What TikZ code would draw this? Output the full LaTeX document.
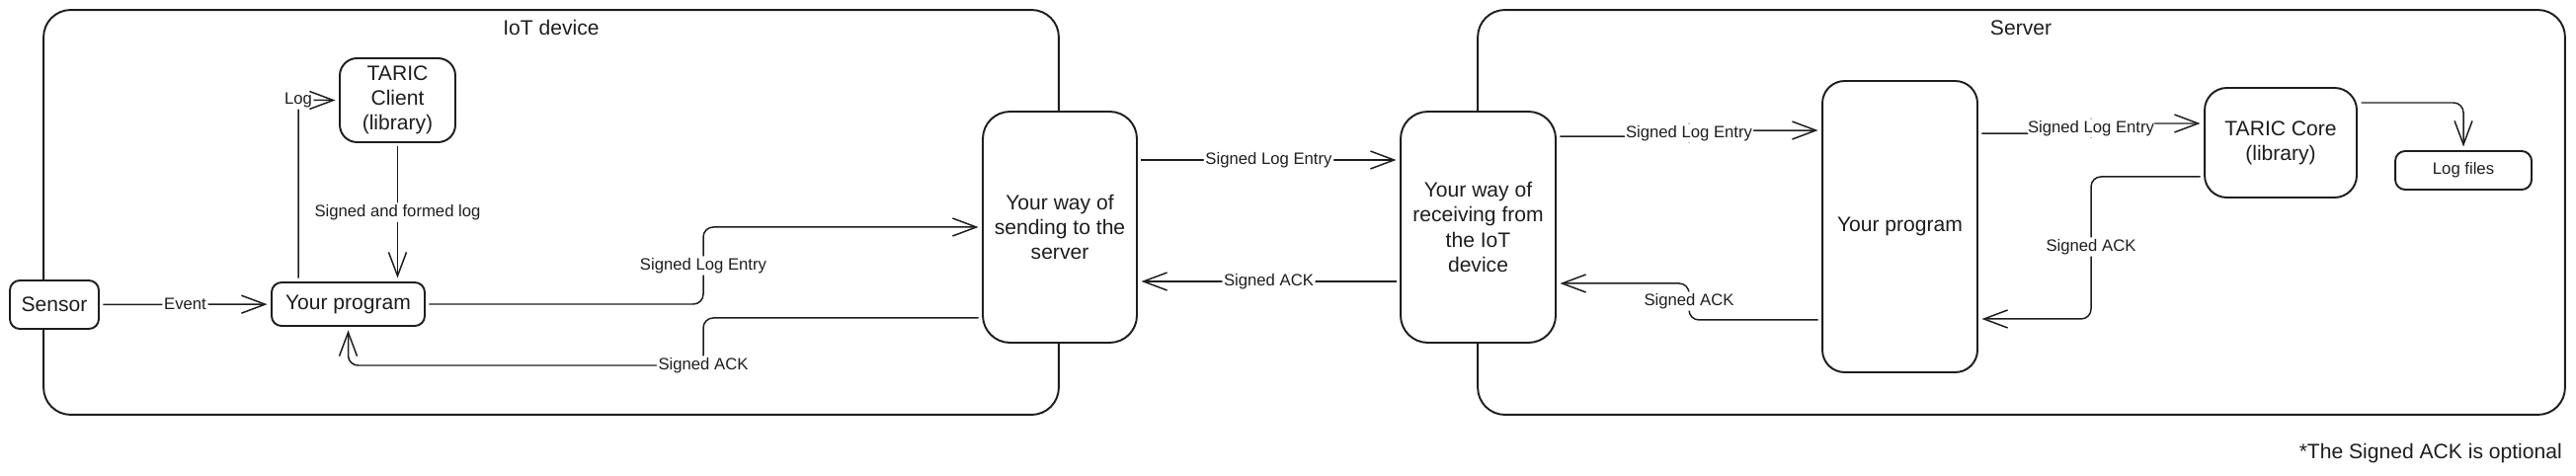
\documentclass[tikz,border=0pt]{standalone}
\usepackage{fontspec}
\setsansfont{Liberation Sans}
\usepackage{tikz}
\usetikzlibrary{arrows.meta}
\definecolor{ink}{HTML}{1E1E1E}

\begin{document}
\begin{tikzpicture}[
  x=0.02cm, y=-0.02cm,
  font=\sffamily,
  >={Straight Barb[length=0.48cm,width=0.36cm]},
  zone/.style={draw=ink, line width=1.1pt, rounded corners=0.55cm},
  block/.style={draw=ink, fill=white, line width=1.1pt, align=center, inner sep=2pt,
    text=ink, font=\sffamily\fontsize{12}{14.4}\selectfont},
  small/.style={block, rounded corners=0.2cm},
  tall/.style={block, rounded corners=0.55cm},
  zonetitle/.style={text=ink, font=\sffamily\fontsize{12}{14.4}\selectfont},
  lbl/.style={fill=white, inner sep=1pt, text=ink, font=\sffamily\fontsize{9.5}{11}\selectfont},
  flow/.style={->, draw=ink, line width=0.85pt, rounded corners=0.2cm,
    shorten <=2pt, shorten >=2pt}
]
\useasboundingbox (0,0) rectangle (2608,482);

\node[zone, minimum width=20.56cm, minimum height=8.2cm] (iot) at (558,215) {};
\node[zone, minimum width=22.02cm, minimum height=8.2cm] (server) at (2046.5,215) {};
\node[zonetitle] (iottitle) at (558,28) {IoT device};
\node[zonetitle] (servertitle) at (2046,28) {Server};

\node[small, minimum width=1.8cm, minimum height=0.98cm] (sensor) at (55,308.5) {Sensor};
\node[small, minimum width=3.1cm, minimum height=0.88cm] (progA) at (352.5,308) {Your program};
\node[block, rounded corners=0.35cm, minimum width=2.34cm, minimum height=1.7cm] (client)
  at (402.5,101.5) {TARIC\\Client\\(library)};
\node[tall, minimum width=3.12cm, minimum height=4.68cm] (send) at (1073,230)
  {Your way of\\sending to the\\server};
\node[tall, minimum width=3.14cm, minimum height=4.68cm] (recv) at (1496.5,230)
  {Your way of\\receiving from\\the IoT\\device};
\node[tall, rounded corners=0.45cm, minimum width=3.14cm, minimum height=5.9cm] (progB)
  at (1923.5,229.5) {Your program};
\node[tall, rounded corners=0.45cm, minimum width=3.08cm, minimum height=2.22cm] (core)
  at (2309,144.5) {TARIC Core\\(library)};
\node[small, font=\sffamily\fontsize{9.5}{11}\selectfont, minimum width=2.76cm,
  minimum height=0.78cm] (logs) at (2494,172.5) {Log files};

\coordinate (entryA) at (712,269);
\coordinate (ackA) at (712,370);
\coordinate (entryC) at (1710,135);
\coordinate (ackC) at (1710,305);
\coordinate (entryD) at (2117,130);
\coordinate (ackD) at (2117,250);

\draw[flow] (sensor) -- node[lbl]{Event} (progA);
\draw[flow] ([xshift=-1.01cm]progA.north) |- node[lbl]{Log} (client.west);
\draw[flow] (client.south) -- node[lbl]{Signed and formed log} (client.south |- progA.north);
\draw[flow] (progA.east) -| (entryA) node[lbl]{Signed Log Entry} |- (send.west);
\draw[flow] ([yshift=-1.84cm]send.west) -| (ackA) node[lbl]{Signed ACK} -| (progA.south);

\draw[flow] ([yshift=1.36cm]send.east) -- node[lbl]{Signed Log Entry} ([yshift=1.36cm]recv.west);
\draw[flow] ([yshift=-1.1cm]recv.west) -- node[lbl]{Signed ACK} ([yshift=-1.1cm]send.east);

\draw[flow] ([yshift=1.84cm]recv.east) -| (entryC) node[lbl]{Signed Log Entry} |- ([yshift=1.95cm]progB.west);
\draw[flow] ([yshift=1.89cm]progB.east) -| (entryD) node[lbl]{Signed Log Entry} |- ([yshift=0.39cm]core.west);
\draw[flow] ([yshift=0.81cm]core.east) -| (logs.north);
\draw[flow] ([yshift=-0.69cm]core.west) -| (ackD) node[lbl]{Signed ACK} |- ([yshift=-1.87cm]progB.east);
\draw[flow] ([yshift=-1.89cm]progB.west) -| (ackC) node[lbl]{Signed ACK} |- ([yshift=-1.14cm]recv.east);

\node[zonetitle, anchor=east] (optnote) at (2600,459) {*The Signed ACK is optional};
\end{tikzpicture}
\end{document}
